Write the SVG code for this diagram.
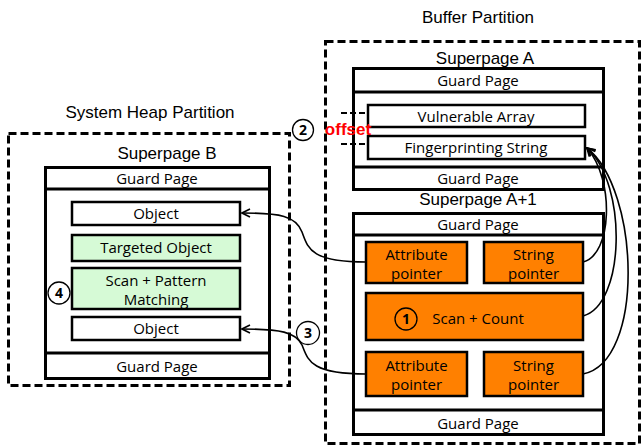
<svg xmlns="http://www.w3.org/2000/svg" width="642" height="447" viewBox="0 0 642 447">
<defs>
<style>
.title{font-family:"Liberation Sans",Arial,sans-serif;font-size:17px;fill:#000;text-anchor:middle}
.lbl{font-family:"Open Sans","Liberation Sans",sans-serif;font-size:15px;fill:#000;text-anchor:middle}
.part{fill:none;stroke:#000;stroke-width:3;stroke-dasharray:8,4}
.sp{fill:#fff;stroke:#000;stroke-width:3}
.box{fill:#fff;stroke:#000;stroke-width:2.5}
.org{fill:#FF8000;stroke:#000;stroke-width:2.5}
.grn{fill:#D6FAD6;stroke:#000;stroke-width:2.5}
.sep{stroke:#000;stroke-width:3}
.circ{fill:#fff;stroke:#000;stroke-width:1.3}
.num{font-family:"Open Sans","Liberation Sans",sans-serif;font-size:14px;font-weight:bold;fill:#000;text-anchor:middle}
.conn{fill:none;stroke:#000;stroke-width:1.6}
</style>
<marker id="arr" viewBox="0 0 10 10" refX="9" refY="5" markerWidth="10" markerHeight="10" markerUnits="userSpaceOnUse" orient="auto">
<path d="M1,1 L9,5 L1,9" fill="none" stroke="#000" stroke-width="1.6"/>
</marker>
</defs>
<rect width="642" height="447" fill="#fff"/>

<g id="buffer-partition">
<text class="title" x="478" y="23">Buffer Partition</text>
<rect class="part" x="325.5" y="41.5" width="314" height="402"/>
</g>

<g id="heap-partition">
<text class="title" x="150" y="118">System Heap Partition</text>
<rect class="part" x="8.5" y="133.5" width="281" height="252"/>
</g>

<g id="superpage-a">
<text class="title" x="485" y="64">Superpage A</text>
<rect class="sp" x="353.5" y="68.5" width="250" height="121"/>
<line class="sep" x1="353" y1="92" x2="604" y2="92"/>
<line class="sep" x1="353" y1="167" x2="604" y2="167"/>
<text class="lbl" x="478" y="86">Guard Page</text>
<text class="lbl" x="478" y="184">Guard Page</text>
</g>

<g id="vulnerable-array">
<rect class="box" x="368" y="105" width="217" height="22"/>
<text class="lbl" x="476" y="122">Vulnerable Array</text>
</g>

<g id="fingerprinting-string">
<rect class="box" x="368" y="136" width="217" height="23"/>
<text class="lbl" x="476" y="153">Fingerprinting String</text>
</g>

<g id="offset">
<line x1="341" y1="113" x2="366" y2="113" stroke="#000" stroke-width="2" stroke-dasharray="6,3"/>
<line x1="341" y1="144" x2="366" y2="144" stroke="#000" stroke-width="2" stroke-dasharray="6,3"/>
<text x="348" y="135" font-family="Liberation Sans,Arial,sans-serif" font-size="17px" font-weight="bold" fill="#FF0000" text-anchor="middle">offset</text>
</g>

<g id="step-2">
<circle class="circ" cx="303" cy="130" r="10.5"/>
<text class="num" x="303" y="135">2</text>
</g>

<g id="superpage-a1">
<text class="title" x="478" y="205">Superpage A+1</text>
<rect class="sp" x="353.5" y="213.5" width="250" height="221"/>
<line class="sep" x1="353" y1="235" x2="604" y2="235"/>
<line class="sep" x1="353" y1="410" x2="604" y2="410"/>
<text class="lbl" x="478" y="230">Guard Page</text>
<text class="lbl" x="478" y="429">Guard Page</text>
</g>

<g id="attr-pointer-1">
<rect class="org" x="366" y="242" width="101" height="41"/>
<text class="lbl" x="416.5" y="260">Attribute</text>
<text class="lbl" x="416.5" y="279">pointer</text>
</g>

<g id="string-pointer-1">
<rect class="org" x="484" y="242" width="99" height="41"/>
<text class="lbl" x="533.5" y="260">String</text>
<text class="lbl" x="533.5" y="279">pointer</text>
</g>

<g id="scan-count">
<rect class="org" x="366" y="293" width="217" height="47"/>
<circle cx="406" cy="319" r="11" fill="none" stroke="#000" stroke-width="1.3"/>
<text class="num" x="406" y="324">1</text>
<text class="lbl" x="478" y="324">Scan + Count</text>
</g>

<g id="attr-pointer-2">
<rect class="org" x="366" y="352" width="101" height="44"/>
<text class="lbl" x="416.5" y="371">Attribute</text>
<text class="lbl" x="416.5" y="390">pointer</text>
</g>

<g id="string-pointer-2">
<rect class="org" x="484" y="352" width="99" height="44"/>
<text class="lbl" x="533.5" y="371">String</text>
<text class="lbl" x="533.5" y="390">pointer</text>
</g>

<g id="superpage-b">
<text class="title" x="167" y="159">Superpage B</text>
<rect class="sp" x="45.5" y="167.5" width="224" height="211"/>
<line class="sep" x1="45" y1="189" x2="270" y2="189"/>
<line class="sep" x1="45" y1="353" x2="270" y2="353"/>
<text class="lbl" x="157" y="184">Guard Page</text>
<text class="lbl" x="157" y="372">Guard Page</text>
</g>

<g id="object-1">
<rect class="box" x="72" y="202" width="168" height="23"/>
<text class="lbl" x="156" y="219">Object</text>
</g>

<g id="targeted-object">
<rect class="grn" x="72" y="235" width="168" height="26"/>
<text class="lbl" x="156" y="253">Targeted Object</text>
</g>

<g id="scan-pattern">
<rect class="grn" x="72" y="268" width="168" height="41"/>
<text class="lbl" x="156" y="286">Scan + Pattern</text>
<text class="lbl" x="156" y="305">Matching</text>
</g>

<g id="object-2">
<rect class="box" x="72" y="317" width="168" height="23"/>
<text class="lbl" x="156" y="334">Object</text>
</g>

<g id="step-4">
<circle class="circ" cx="59" cy="293" r="11"/>
<text class="num" x="59" y="298">4</text>
</g>

<g id="step-3">
<circle class="circ" cx="308" cy="333" r="11.5"/>
<text class="num" x="308" y="338">3</text>
</g>

<g id="connectors">
<path class="conn" d="M366,262 C310,262 308,248 302,232 C296,216 280,213 242,213" marker-end="url(#arr)"/>
<path class="conn" d="M366,374 C310,374 308,360 302,345 C296,332 280,329 242,329" marker-end="url(#arr)"/>
<path class="conn" d="M583,262 C612,255 615,180 587,148" marker-end="url(#arr)"/>
<path class="conn" d="M583,316 C625,305 628,185 587,148" marker-end="url(#arr)"/>
<path class="conn" d="M583,374 C645,362 640,190 587,148" marker-end="url(#arr)"/>
</g>
</svg>
